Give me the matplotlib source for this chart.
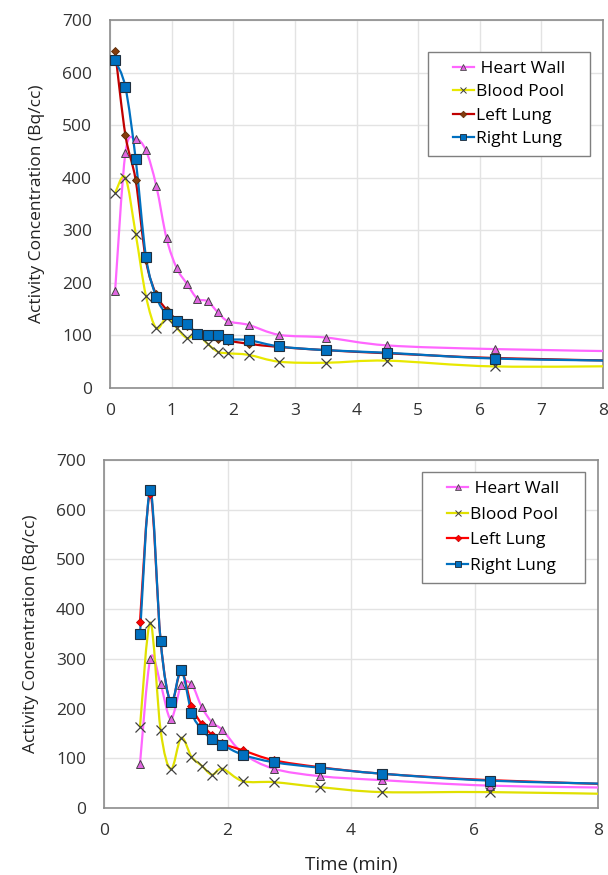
import numpy as np
import matplotlib
matplotlib.use("Agg")
import matplotlib.pyplot as plt
from matplotlib.path import Path
from matplotlib.patches import PathPatch, Rectangle

plt.rcParams['font.family'] = ['Open Sans', 'DejaVu Sans']

# --- DATA ---
# frame mid-times (min); the last frame (8.75) lies outside the visible axis
t_top = [0.083, 0.25, 0.417, 0.583, 0.75, 0.917, 1.083, 1.25, 1.417, 1.583,
         1.75, 1.917, 2.25, 2.75, 3.5, 4.5, 6.25, 8.75]
heart_top = [185, 447, 473, 452, 385, 285, 228, 198, 170, 165,
             144, 127, 120, 101, 96, 81, 74, 69]
blood_top = [371, 400, 293, 175, 114, 133, 114, 95, 102, 84,
             69, 66, 63, 50, 48, 52, 41, 42]
left_top = [641, 481, 395, 243, 178, 149, 130, 118, 105, 100,
            93, 90, 84, 78, 72, 66, 57, 51]
right_top = [623, 572, 435, 250, 174, 140, 127, 122, 103, 101,
             101, 93, 91, 79, 72, 67, 56, 51]

t_bot = [0.583, 0.75, 0.917, 1.083, 1.25, 1.417, 1.583, 1.75, 1.917, 2.25,
         2.75, 3.5, 4.5, 6.25, 8.75]
heart_bot = [89, 300, 249, 179, 247, 249, 203, 172, 157, 110,
             79, 64, 56, 45, 40]
blood_bot = [163, 373, 156, 78, 141, 103, 85, 67, 79, 54,
             52, 42, 32, 32, 27]
left_bot = [375, 632, 336, 213, 276, 205, 169, 147, 130, 116,
            96, 82, 69, 56, 46]
right_bot = [349, 639, 336, 213, 277, 192, 158, 138, 127, 107,
             92, 81, 69, 55, 47]

labels = [' Heart Wall', 'Blood Pool', 'Left Lung', 'Right Lung']

W, H = 608, 875


def smooth_path(x, y):
    # Excel-like smoothed line: cubic Bezier segments through every data point
    x = np.asarray(x, float); y = np.asarray(y, float)
    n = len(x)
    verts = [(x[0], y[0])]; codes = [Path.MOVETO]
    for i in range(n - 1):
        p0 = np.array([x[max(i - 1, 0)], y[max(i - 1, 0)]])
        p1 = np.array([x[i], y[i]])
        p2 = np.array([x[i + 1], y[i + 1]])
        p3 = np.array([x[min(i + 2, n - 1)], y[min(i + 2, n - 1)]])
        c1 = p1 + (p2 - p0) / 6.0
        c2 = p2 - (p3 - p1) / 6.0
        verts += [tuple(c1), tuple(c2), tuple(p2)]
        codes += [Path.CURVE4] * 3
    return Path(verts, codes)


def draw_panel(ax, t, series, styles, xstep, box, spacing):
    for y, st, lab in zip(series, styles, labels):
        ax.add_patch(PathPatch(smooth_path(t, y), fill=False, edgecolor=st['line'],
                               lw=1.6, zorder=3))
        ax.plot(t, y, linestyle='none', marker=st['marker'], ms=st['ms'],
                mfc=st['mfc'], mec=st['mec'], mew=st['mew'], zorder=4)
        # legend proxy
        ax.plot([], [], color=st['line'], lw=1.6, marker=st['marker'], ms=st['ms'] * 0.75,
                mfc=st['mfc'], mec=st['mec'], mew=st['mew'] * 0.8, label=lab)
    ax.set_xlim(0, 8); ax.set_ylim(0, 700)
    ax.set_xticks(np.arange(0, 9, xstep)); ax.set_yticks(np.arange(0, 701, 100))
    ax.grid(True, color='#e3e3e3', lw=1.0, zorder=0)
    ax.set_axisbelow(True)
    for s in ax.spines.values():
        s.set_color('#8c8c8c'); s.set_linewidth(1.2)
    ax.tick_params(length=0, labelsize=12.5, colors='#333333')
    ax.tick_params(axis='x', pad=11)
    ax.tick_params(axis='y', pad=13)
    ax.set_ylabel('Activity Concentration (Bq/cc)', fontsize=12.5, color='#222222', labelpad=12)

    # legend box (x0, y0, x1, y1 in pixels from top-left)
    x0, y0, x1, y1 = box
    ax.add_patch(Rectangle((x0 / W, 1 - y1 / H), (x1 - x0) / W, (y1 - y0) / H,
                           transform=fig.transFigure, facecolor='white', clip_on=False,
                           edgecolor='#7f7f7f', lw=1.0, zorder=5))
    leg = ax.legend(loc='center', bbox_to_anchor=((x0 + x1) / 2 / W, 1 - (y0 + y1) / 2 / H),
                    bbox_transform=fig.transFigure, fontsize=12.5, frameon=False,
                    handlelength=1.2, handletextpad=0.12, labelspacing=spacing,
                    borderpad=0, borderaxespad=0)
    leg.set_zorder(6)


styles_top = [
    dict(line='#ff66ff', marker='^', ms=6, mfc='#e066e0', mec='#444444', mew=0.7),
    dict(line='#e8e800', marker='x', ms=6.5, mfc='none', mec='#404040', mew=0.9),
    dict(line='#c00000', marker='D', ms=4.5, mfc='#843c0c', mec='#5a2a08', mew=0.6),
    dict(line='#0070c0', marker='s', ms=6.5, mfc='#0070c0', mec='#1f2f3f', mew=0.8),
]
styles_bot = [
    dict(line='#ff66ff', marker='^', ms=6, mfc='#e066e0', mec='#444444', mew=0.7),
    dict(line='#e0e000', marker='x', ms=6.5, mfc='none', mec='#404040', mew=0.9),
    dict(line='#ff0000', marker='D', ms=4.5, mfc='#ff0000', mec='#c00000', mew=0.6),
    dict(line='#0070c0', marker='s', ms=6.5, mfc='#0070c0', mec='#1f2f3f', mew=0.8),
]

fig = plt.figure(figsize=(W / 100, H / 100), dpi=100)
ax1 = fig.add_axes([110 / W, 487 / H, 493 / W, 368 / H])
ax2 = fig.add_axes([104 / W, 67 / H, 494 / W, 348 / H])

draw_panel(ax1, t_top, [heart_top, blood_top, left_top, right_top], styles_top, 1,
           (428, 52, 590, 156), 0.42)
draw_panel(ax2, t_bot, [heart_bot, blood_bot, left_bot, right_bot], styles_bot, 2,
           (422, 472, 585, 583), 0.55)
ax2.set_xlabel('Time (min)', fontsize=13.5, color='#222222', labelpad=12)

fig.savefig('out.png', dpi=100)
